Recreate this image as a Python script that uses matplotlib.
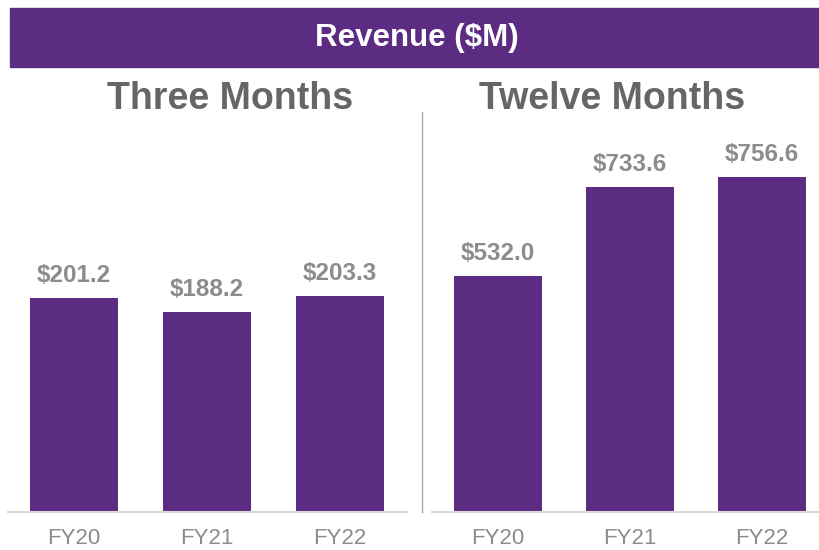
import matplotlib.pyplot as plt
from matplotlib.patches import Rectangle
from matplotlib.lines import Line2D

years = ["FY20", "FY21", "FY22"]
three_months = [201.2, 188.2, 203.3]
twelve_months = [532.0, 733.6, 756.6]

purple = "#5B2C82"
plt.rcParams["font.family"] = ["Liberation Sans", "DejaVu Sans"]

fig = plt.figure(figsize=(8.19, 5.5), dpi=100)
W, H = 819, 550


def px_axes(x0, x1, y_top, y_bot):
    return fig.add_axes([x0 / W, 1 - y_bot / H, (x1 - x0) / W, (y_bot - y_top) / H])


# header band
fig.patches.append(Rectangle((10 / W, 1 - 67 / H), 1 - 10 / W, 59 / H,
                             transform=fig.transFigure, color=purple, zorder=0))
fig.text(417 / W, 1 - 38 / H, "Revenue ($M)", color="white", fontsize=22.5,
         fontweight="bold", ha="center", va="center")

fig.text(230 / W, 1 - 99 / H, "Three Months", color="#666666", fontsize=27,
         fontweight="bold", ha="center", va="center")
fig.text(612 / W, 1 - 99 / H, "Twelve Months", color="#666666", fontsize=27,
         fontweight="bold", ha="center", va="center")

# divider
fig.lines.append(Line2D([422 / W, 422 / W], [1 - 112 / H, 1 - 512 / H],
                        transform=fig.transFigure, color="#A6A6A6", lw=1))


def draw_panel(ax, values, ymax, xmax):
    x = range(len(values))
    ax.bar(x, values, width=0.665, color=purple)
    for xi, v in zip(x, values):
        ax.annotate("${:.1f}".format(v), (xi, v), xytext=(0, 11.5),
                    textcoords="offset points", ha="center", va="baseline",
                    fontsize=17.5, fontweight="bold", color="#8C8C8C")
    ax.set_xlim(-0.5, xmax)
    ax.set_ylim(0, ymax)
    ax.set_xticks(list(x))
    ax.set_xticklabels(years, fontsize=16, color="#8C8C8C")
    ax.tick_params(axis="x", length=0, pad=11.5)
    ax.set_yticks([])
    for s in ["top", "left", "right"]:
        ax.spines[s].set_visible(False)
    ax.spines["bottom"].set_color("#D9D9D9")
    ax.spines["bottom"].set_linewidth(1.5)
    ax.patch.set_alpha(0)


ax1 = px_axes(7.5, 406.5, 112, 512)
draw_panel(ax1, three_months, 376.4, 2.5)

ax2 = px_axes(432, 819, 112, 512)
draw_panel(ax2, twelve_months, 902.5, 2.43)

fig.savefig("out.png", dpi=100)
